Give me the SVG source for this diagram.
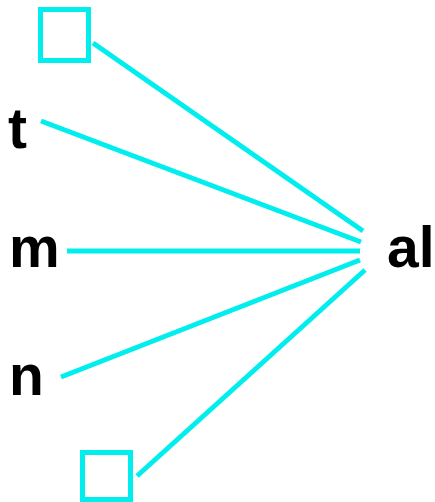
<svg xmlns="http://www.w3.org/2000/svg" width="435" height="502" viewBox="0 0 435 502">
<style>
.lbl{font-family:"Liberation Sans",Arial,sans-serif;font-weight:bold;font-size:57px;fill:#000}
.box{fill:none;stroke:#00eeee;stroke-width:5}
.edge{stroke:#00eeee;stroke-width:5;fill:none}
</style>
<rect width="435" height="502" fill="#fff"/>
<g id="connectors">
<line class="edge" x1="93" y1="43" x2="363" y2="231"/>
<line class="edge" x1="41" y1="121" x2="361" y2="242"/>
<line class="edge" x1="67" y1="251" x2="360" y2="251"/>
<line class="edge" x1="61" y1="377" x2="360" y2="260"/>
<line class="edge" x1="137" y1="476" x2="365" y2="270"/>
</g>
<g id="box-top"><rect class="box" x="40.5" y="9.5" width="48" height="51"/></g>
<g id="node-t"><text class="lbl" x="8" y="148">t</text></g>
<g id="node-m"><text class="lbl" x="9" y="267">m</text></g>
<g id="node-n"><text class="lbl" x="9" y="395">n</text></g>
<g id="box-bottom"><rect class="box" x="82.5" y="452.5" width="48" height="47"/></g>
<g id="node-al"><text class="lbl" x="387" y="267">al</text></g>
</svg>
